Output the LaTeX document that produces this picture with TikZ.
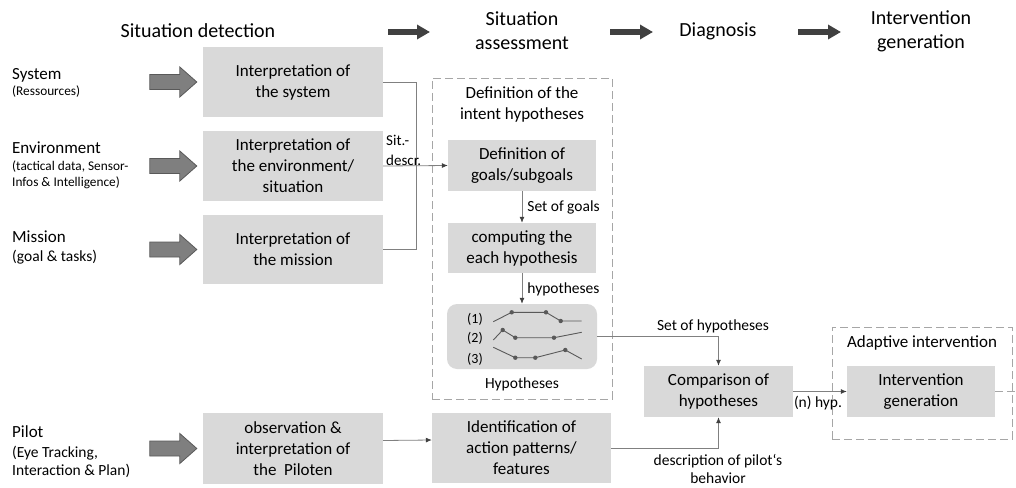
\documentclass[tikz,border=0pt]{standalone}
\usepackage{fontspec}
\setmainfont{Carlito}
\usetikzlibrary{arrows.meta,calc}
\definecolor{boxfill}{HTML}{D9D9D9}
\definecolor{wiregray}{HTML}{808080}
\definecolor{tipgray}{HTML}{404040}
\definecolor{headgray}{HTML}{404040}
\definecolor{feedfill}{HTML}{7F7F7F}
\definecolor{feedline}{HTML}{595959}
\definecolor{framegray}{HTML}{A6A6A6}
\definecolor{plotgray}{HTML}{595959}

% thick gray input arrow ending just left of a box
\newcommand\feedarrow[1]{%
  \filldraw[feedarrow] ($(#1.west)+(-53,-7.5)$) -- ++(30,0) -- ++(0,-7.5)
    -- ++(17,15) -- ++(-17,15) -- ++(0,-7.5) -- ++(-30,0) -- cycle;}

\begin{document}
\begin{tikzpicture}[x=1pt,y=-1pt,
  box/.style={fill=boxfill, inner sep=0pt, align=center,
    font=\fontsize{17}{21}\selectfont},
  head/.style={inner sep=0pt, align=center, font=\fontsize{20}{24}\selectfont},
  txt/.style={inner sep=0pt, align=center, font=\fontsize{17}{21}\selectfont},
  lab/.style={inner sep=0pt, align=center, font=\fontsize{15.5}{18}\selectfont},
  small/.style={inner sep=0pt, align=left, font=\fontsize{13.3}{16}\selectfont},
  mid/.style={inner sep=0pt, align=left, font=\fontsize{15.5}{18.5}\selectfont},
  wire/.style={draw=wiregray, line width=0.8pt},
  wirearrow/.style={wire, -{Latex[length=6pt,width=5pt,color=tipgray]}},
  headarrow/.style={draw=headgray, line width=6.7pt,
    -{Triangle[length=13pt,width=14pt]}},
  feedarrow/.style={fill=feedfill, draw=feedline, line width=0.8pt},
  dashframe/.style={draw=framegray, line width=1pt, dash pattern=on 8pt off 4pt,
    inner sep=0pt},
  plot/.style={draw=plotgray, line width=0.9pt},
  dot/.style={fill=plotgray}
]
\useasboundingbox (0,0) rectangle (1016,487);

% ---- phase headings ----
\node[head] (hd1) at (198,31) {Situation detection};
\node[head] (hd2) at (522,31) {Situation\\assessment};
\node[head] (hd3) at (718,31) {Diagnosis};
\node[head] (hd4) at (921,31) {Intervention\\generation};
\coordinate (h1a) at (388,32); \coordinate (h1b) at (430,32);
\coordinate (h2a) at (610,32); \coordinate (h2b) at (653,32);
\coordinate (h3a) at (798,32); \coordinate (h3b) at (841,32);
\draw[headarrow] (h1a) -- (h1b);
\draw[headarrow] (h2a) -- (h2b);
\draw[headarrow] (h3a) -- (h3b);

% ---- input sources ----
\node[txt, anchor=west] (srcsys) at (12,75) {System};
\node[small, anchor=west] (srcsysd) at (12,92) {(Ressources)};
\node[txt, anchor=west] (srcenv) at (12,148) {Environment};
\node[small, anchor=west] (srcenvd) at (12,175) {(tactical data, Sensor-\\Infos \& Intelligence)};
\node[txt, anchor=west] (srcmis) at (12,237) {Mission};
\node[mid, anchor=west] (srcmisd) at (12,257) {(goal \& tasks)};
\node[txt, anchor=west] (srcpil) at (12,432) {Pilot};
\node[mid, anchor=west] (srcpild) at (12,462) {(Eye Tracking,\\Interaction \& Plan)};

% ---- situation detection boxes ----
\node[box, minimum width=180pt, minimum height=70pt] (sys) at (293,82) {Interpretation of\\the system};
\node[box, minimum width=180pt, minimum height=70pt] (env) at (293,166) {Interpretation of\\the environment/\\situation};
\node[box, minimum width=180pt, minimum height=69pt] (mis) at (293,249.5) {Interpretation of\\the mission};
\node[box, minimum width=180pt, minimum height=71pt] (pil) at (293,448.5) {observation \&\\interpretation of\\the\ \ Piloten};

\feedarrow{sys}
\feedarrow{env}
\feedarrow{mis}
\feedarrow{pil}

% ---- situation assessment ----
\node[dashframe, minimum width=180pt, minimum height=321pt] (sa) at (522,238.5) {};
\node[txt] (satitle) at (522,104.5) {Definition of the\\intent hypotheses};
\node[box, minimum width=148pt, minimum height=51pt] (defg) at (522,165.5) {Definition of\\goals/subgoals};
\node[box, minimum width=148pt, minimum height=50pt] (comp) at (522,248) {computing the\\each hypothesis};
\node[fill=boxfill, rounded corners=10pt, inner sep=0pt, minimum width=150pt, minimum height=65pt] (hyp) at (522,336.5) {};
\node[lab] (hyptitle) at (522,384) {Hypotheses};

% hypothesis traces
\node[inner sep=0pt, font=\fontsize{14}{16}\selectfont] (h1) at (475,319) {(1)};
\node[inner sep=0pt, font=\fontsize{14}{16}\selectfont] (h2) at (475,338) {(2)};
\node[inner sep=0pt, font=\fontsize{14}{16}\selectfont] (h3) at (475,359) {(3)};
\draw[plot] (493.3,321.7) -- (511.7,312.3) -- (546,312.3) -- (560.7,321) -- (581.7,321);
\draw[plot] (493.3,340) -- (502.7,330) -- (515.3,337.7) -- (554,337.7) -- (581.7,332.3);
\draw[plot] (493.3,347.3) -- (515.3,357.7) -- (535.3,357.7) -- (565.3,350) -- (581.7,359);
\foreach \p in {(511.7,312.3),(546,312.3),(560.7,321),
                (502.7,330),(515.3,337.7),(554,337.7),
                (515.3,357.7),(535.3,357.7),(565.3,350)}
  \fill[dot] \p circle (2.2pt);

\node[box, minimum width=179pt, minimum height=70pt] (idf) at (521.5,448) {Identification of\\action patterns/\\features};

% ---- diagnosis ----
\node[box, minimum width=149pt, minimum height=51pt] (cmp) at (718.5,391.5) {Comparison of\\hypotheses};

% ---- intervention ----
\node[dashframe, minimum width=180pt, minimum height=112pt] (ai) at (922,383) {};
\node[txt] (aititle) at (922,343) {Adaptive intervention};
\node[box, minimum width=148pt, minimum height=51pt] (intv) at (921,391.5) {Intervention\\generation};

% ---- connectors ----
\coordinate (bus) at (416,166);
\draw[wire] (sys.east) -| (bus);
\draw[wire] (mis.east) -| (bus);
\draw[wirearrow] (env.east) -- (defg.west);
\node[lab, anchor=west, align=left, font=\fontsize{15}{20}\selectfont] (sitd) at (386,150) {Sit.-\\descr.};

\draw[wirearrow] (defg.south) -- (comp.north)
  node[lab, midway, anchor=west, xshift=5pt] (sog) {Set of goals};
\draw[wirearrow] (comp.south) -- (hyp.north)
  node[lab, midway, anchor=west, xshift=5pt, yshift=-1pt] (hypl) {hypotheses};

\draw[wirearrow] (hyp.east) -| (cmp.north);
\node[lab] (sohl) at (713,326) {Set of hypotheses};
\draw[wirearrow] (idf.east) -| (cmp.south);
\node[lab] (dpbl) at (718,468.5) {description of pilot‘s\\behavior};
\draw[wirearrow] ([yshift=8pt]pil.east) -- ([yshift=8pt]idf.west);

\draw[wirearrow] (cmp.east) -- (intv.west);
\node[lab] (nhyp) at (818,403) {(n) hyp.};

\coordinate (out) at (1016,391.5);
\draw[draw=framegray, line width=1pt, dash pattern=on 8pt off 4pt] (intv.east) -- (out);
\end{tikzpicture}
\end{document}
